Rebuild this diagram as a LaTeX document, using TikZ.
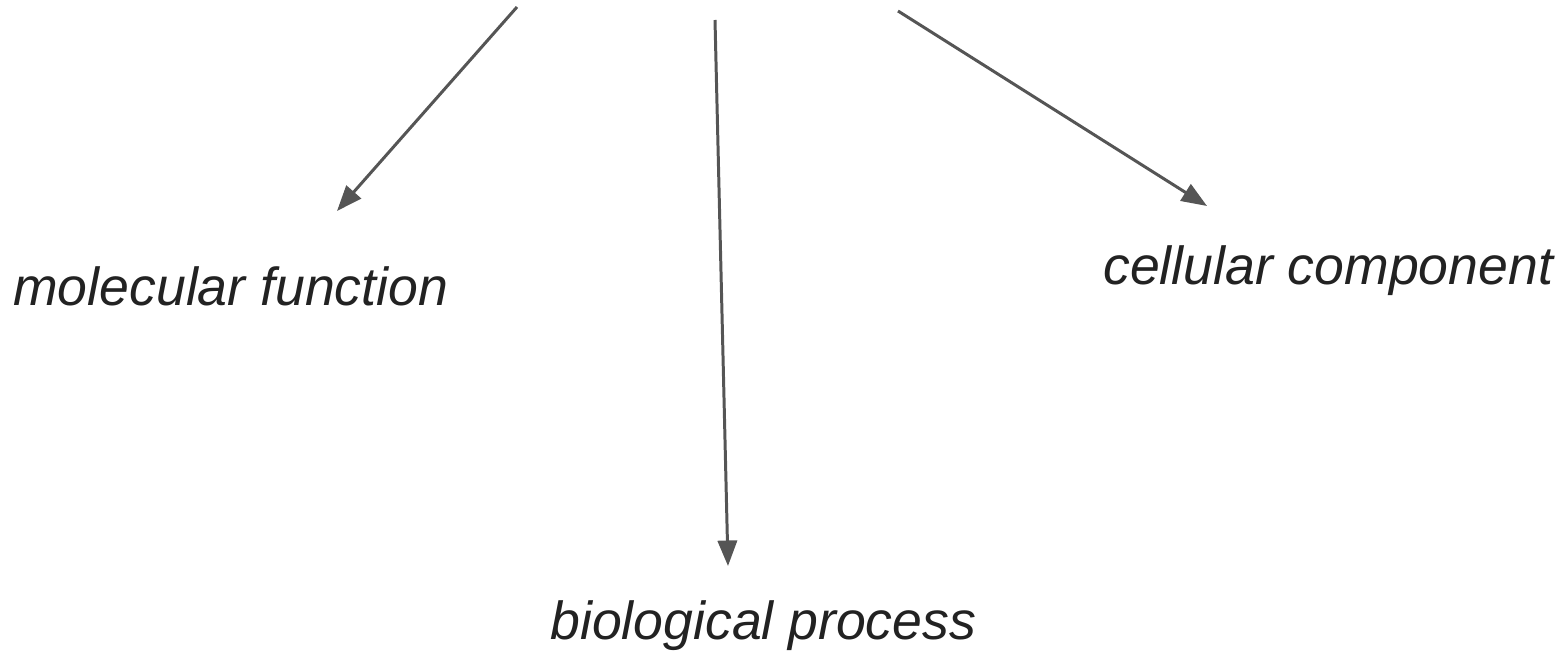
\documentclass[tikz,border=0pt]{standalone}
\usepackage{fontspec}
\setmainfont{Liberation Sans}
\usetikzlibrary{arrows.meta}
\definecolor{linegray}{HTML}{555555}
\definecolor{textgray}{HTML}{222222}
\begin{document}
\begin{tikzpicture}[x=0.02cm,y=-0.02cm,
  term/.style={anchor=base west,inner sep=0pt,text=textgray,font=\fontsize{30.5}{36}\selectfont\itshape},
  link/.style={draw=linegray,line width=1.7pt,-{Triangle[length=14.5pt,width=11pt]}}]
\useasboundingbox (0,0) rectangle (1566,658);
\node[term] (mf) at (13,306) {molecular function};
\node[term] (cc) at (1103,285) {cellular component};
\node[term] (bp) at (550,639) {biological process};
\coordinate (s1) at (517,7);
\coordinate (e1) at (337,211);
\coordinate (s2) at (715,20);
\coordinate (e2) at (728,566);
\coordinate (s3) at (898,11);
\coordinate (e3) at (1207,206);
\draw[link] (s1) -- (e1);
\draw[link] (s2) -- (e2);
\draw[link] (s3) -- (e3);
\end{tikzpicture}
\end{document}
